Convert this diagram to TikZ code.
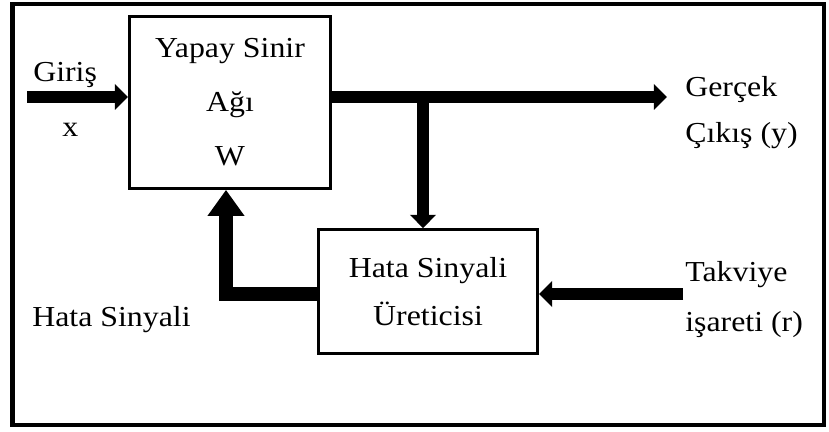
\documentclass[tikz,border=0pt]{standalone}
\usepackage{fontspec}
\setmainfont{Liberation Serif}[FakeStretch=1.1]
\usetikzlibrary{arrows.meta}
\usetikzlibrary{positioning}

\tikzset{
  blok/.style={draw, line width=2.1pt, align=center, inner sep=0pt},
  kalin/.style={line width=9.2pt, -{Triangle[length=0.33cm,width=0.63cm]}},
  yazi/.style={anchor=base west, inner sep=0pt, font=\fontsize{20.6}{24}\selectfont},
}

\begin{document}
\begin{tikzpicture}
\useasboundingbox (0,0) rectangle (20.725,10.8);
% dis cerceve
\draw[line width=3.5pt] (0.3125,0.175) rectangle (20.6,10.7);

% bloklar
\node[blok, minimum width=5.025cm, minimum height=4.3cm,
      font=\fontsize{20.6}{38.4}\selectfont] (ysa) at (5.75,8.24) {Yapay Sinir\\Ağı\\W};
\node[blok, minimum width=5.475cm, minimum height=3.1cm,
      font=\fontsize{20.6}{34}\selectfont] (hsu) at (10.7,3.51) {Hata Sinyali\\Üreticisi};

\coordinate (giris) at (0.675,8.375);
\coordinate (cikis) at (16.675,8.375);
\coordinate (dal) at (10.575,8.375);
\coordinate (takviye) at (17.075,3.45);
\coordinate (geri) at (5.65,3.45);

% oklar
\draw[kalin] (giris) -- (giris -| ysa.west);
\draw[kalin] (ysa.east |- cikis) -- (cikis);
\draw[kalin] (dal) -- (dal |- hsu.north);
\draw[kalin] (takviye) -- (hsu.east |- takviye);
\draw[line width=10.6pt, -{Triangle[length=0.65cm,width=0.88cm]}]
  (hsu.west |- geri) -- (geri) -- (geri |- ysa.south);

% yazilar
\node[yazi] (girisyazi) at (0.825,8.75) {Giriş};
\node[yazi, anchor=base] (xyazi) at (1.76,7.375) {x};
\node[yazi] (gercek) at (17.125,8.375) {Gerçek};
\node[yazi] (cikisyazi) at (17.125,7.225) {Çıkış (y)};
\node[yazi] (takviyeyazi) at (17.125,3.75) {Takviye};
\node[yazi] (isaret) at (17.125,2.5) {işareti (r)};
\node[yazi] (hatayazi) at (0.8,2.625) {Hata Sinyali};
\end{tikzpicture}
\end{document}
